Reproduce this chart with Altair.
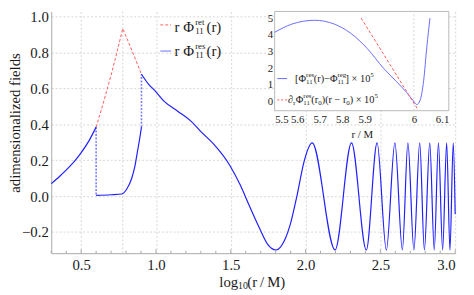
import altair as alt
import pandas as pd

# ---------------- main panel data (x = log10(r/M)) ----------------
seg_a_x = [0.300, 0.355, 0.421, 0.487, 0.553, 0.600]
seg_a_y = [0.070, 0.110, 0.163, 0.228, 0.310, 0.385]

seg_b_x = [0.600, 0.700, 0.772, 0.805, 0.838, 0.860, 0.875, 0.893, 0.903]
seg_b_y = [0.005, 0.008, 0.012, 0.040, 0.100, 0.170, 0.243, 0.330, 0.385]

seg_c_x = [0.903, 0.950, 0.991, 1.057, 1.145, 1.232, 1.300, 1.386, 1.495, 1.561,
           1.627, 1.693, 1.748, 1.803, 1.857, 1.901, 1.945, 1.989, 2.044, 2.197,
           2.307, 2.406, 2.478, 2.540, 2.597, 2.647, 2.684, 2.724, 2.763, 2.794,
           2.830, 2.860, 2.888, 2.916, 2.943, 2.965, 2.987, 3.000]
seg_c_y = [0.680, 0.625, 0.590, 0.527, 0.474, 0.420, 0.360, 0.290, 0.170, 0.066,
           -0.059, -0.180, -0.270, -0.300, -0.250, -0.147, 0.012, 0.190, 0.297, -0.300,
           0.297, -0.300, 0.297, -0.300, 0.297, -0.300, 0.297, -0.300, 0.297, -0.300,
           0.297, -0.300, 0.297, -0.300, 0.297, -0.300, 0.297, -0.100]

ret_x = [0.600, 0.650, 0.700, 0.740, 0.778, 0.838, 0.903]
ret_y = [0.385, 0.525, 0.675, 0.805, 0.935, 0.815, 0.680]

jump_x = [0.600, 0.600, 0.903, 0.903]
jump_y = [0.385, 0.005, 0.385, 0.680]
jump_id = ["j1", "j1", "j2", "j2"]

x_ticks = [0.5, 1.0, 1.5, 2.0, 2.5, 3.0]
x_minor = [0.3, 0.4, 0.6, 0.7, 0.8, 0.9, 1.1, 1.2, 1.3, 1.4, 1.6, 1.7, 1.8, 1.9,
           2.1, 2.2, 2.3, 2.4, 2.6, 2.7, 2.8, 2.9]
y_ticks = [-0.2, 0.0, 0.2, 0.4, 0.6, 0.8, 1.0]
x_extra_grid = [0.778]

# ---------------- inset data (x = r/M) ----------------
ins_x = [5.500, 5.576, 5.678, 5.765, 5.838, 5.905, 5.938, 5.965, 5.985, 6.000,
         6.008, 6.018, 6.028, 6.037, 6.046]
ins_y = [4.15, 4.64, 4.87, 4.64, 4.09, 3.18, 2.00, 1.18, 0.55, 0.00,
         -0.18, 0.09, 1.27, 3.27, 5.00]
tan_x = [5.884, 6.012]
tan_y = [5.0, -0.5]
ins_x_ticks = [5.5, 5.6, 5.7, 5.8, 5.9, 6.0, 6.1]
ins_y_ticks = [0, 1, 2, 3, 4, 5]

# ---------------- layout ----------------
PW, PH = 411, 246
FONT = "Liberation Serif, Times New Roman, Times, DejaVu Serif, serif"
BLUE = "#1f1fff"
RED = "#ff5a5a"
GRID = "#d6d6d6"
FRAME = "#a8a8a8"
INK = "#1a1a1a"

blue_df = pd.concat([
    pd.DataFrame({"x": seg_a_x, "y": seg_a_y, "seg": "a"}),
    pd.DataFrame({"x": seg_b_x, "y": seg_b_y, "seg": "b"}),
    pd.DataFrame({"x": seg_c_x, "y": seg_c_y, "seg": "c"}),
])
ret_df = pd.DataFrame({"x": ret_x, "y": ret_y})
jump_df = pd.DataFrame({"x": jump_x, "y": jump_y, "seg": jump_id})

xsc = alt.Scale(domain=[0.3, 3.0], nice=False, zero=False)
ysc = alt.Scale(domain=[-0.318, 1.03], nice=False, zero=False)
xax = alt.Axis(values=x_ticks, format=".1f", title=None, grid=True, gridDash=[2, 2],
               gridColor=GRID, ticks=False, domainColor=FRAME, labelFont=FONT,
               labelFontSize=15, labelColor=INK, labelPadding=5)
yax = alt.Axis(values=y_ticks, labelExpr="replace(format(datum.value, '.1f'), '-', '\u2212')",
               title="adimensionalized fields", titleFont=FONT, titleFontSize=15,
               titleFontWeight="normal", titleColor=INK, titleX=-29, titleY=113,
               titleAngle=-90, titleBaseline="bottom", titleAlign="center",
               grid=True, gridDash=[2, 2], gridColor=GRID, ticks=False,
               domainColor=FRAME, labelFont=FONT, labelFontSize=15,
               labelColor=INK, labelPadding=3)
X = alt.X("x:Q", scale=xsc, axis=xax)
Y = alt.Y("y:Q", scale=ysc, axis=yax)

extra_grid = alt.Chart(pd.DataFrame({"x": x_extra_grid})).mark_rule(
    color=GRID, strokeDash=[2, 2], strokeWidth=1).encode(x=X)
major_ticks = alt.Chart(pd.DataFrame({"x": x_ticks})).mark_rule(
    color=FRAME, strokeWidth=1).encode(x=X, y=alt.value(PH), y2=alt.value(PH - 4))
minor_ticks = alt.Chart(pd.DataFrame({"x": x_minor})).mark_rule(
    color=FRAME, strokeWidth=1).encode(x=X, y=alt.value(PH), y2=alt.value(PH - 2.5))
ret_line = alt.Chart(ret_df).mark_line(color=RED, strokeWidth=1, strokeDash=[3, 2]).encode(
    x=X, y=Y, order="x:Q")
jumps = alt.Chart(jump_df).mark_line(color="#7b7bff", strokeWidth=1.6, strokeDash=[2, 1.5]).encode(
    x=X, y=Y, detail="seg:N")
blue_line = alt.Chart(blue_df).mark_line(color=BLUE, strokeWidth=1.2, interpolate="monotone").encode(
    x=X, y=Y, detail="seg:N", order="x:Q")

main = alt.layer(extra_grid, major_ticks, minor_ticks, ret_line, jumps, blue_line)

# ---------------- inset ----------------
ixsc = alt.Scale(domain=[5.5, 5.9, 6.0, 6.1], range=[227.3, 319.0, 369.0, 404.5])
iysc = alt.Scale(domain=[-0.55, 5.4], range=[101, 0])
ixax = alt.Axis(orient="bottom", offset=101 - PH, values=ins_x_ticks,
                labelExpr="datum.value == 6 ? '6' : format(datum.value, '.1f')",
                title="r / M", titleFont=FONT, titleFontSize=11, titleFontWeight="normal",
                titleColor=INK, titlePadding=4, grid=False, ticks=False, domain=False,
                labelFont=FONT, labelFontSize=11, labelColor=INK, labelPadding=3)
iyax = alt.Axis(orient="left", offset=-227.3, values=ins_y_ticks, format="d", title=None,
                grid=False, ticks=False, domain=False, labelFont=FONT, labelFontSize=11,
                labelColor=INK, labelPadding=2)
IX = alt.X("x:Q", scale=ixsc, axis=ixax)
IY = alt.Y("y:Q", scale=iysc, axis=iyax)

bg = alt.Chart(pd.DataFrame({"x": [5.5], "x2": [6.1], "y": [-0.55], "y2": [5.4]})).mark_rect(
    fill="white", stroke=FRAME, strokeWidth=0.8).encode(x=IX, x2="x2:Q", y=IY, y2="y2:Q")
ins_grid = alt.Chart(pd.DataFrame({"x": [6.0], "y": [-0.55], "y2": [5.4]})).mark_rule(
    color=GRID, strokeDash=[2, 2]).encode(x=IX, y=IY, y2="y2:Q")
ins_blue = alt.Chart(pd.DataFrame({"x": ins_x, "y": ins_y})).mark_line(
    color="#6a6aff", strokeWidth=1, interpolate="monotone").encode(x=IX, y=IY, order="x:Q")
ins_red = alt.Chart(pd.DataFrame({"x": tan_x, "y": tan_y})).mark_line(
    color=RED, strokeWidth=1, strokeDash=[3, 2]).encode(x=IX, y=IY)

inset = alt.layer(bg, ins_grid, ins_blue, ins_red)

# ---------------- legends and titles (text pieces, pixel positions) ----------------
ann = [
    # main legend
    (125.5, 16, "r \u03a6", 15), (146.4, 11.2, "ret", 9), (146.4, 20.4, "11", 9), (158, 16, "(r)", 15),
    (125.5, 40.3, "r \u03a6", 15), (146.4, 35.5, "res", 9), (146.4, 44.7, "11", 9), (158, 40.3, "(r)", 15),
    # x title
    (171, 275, "log", 15), (190, 279.5, "10", 10), (199.5, 275, "(r\u2009/\u2009M)", 15),
    # inset legend 1
    (248, 68.3, "[\u03a6", 10.5), (259.3, 64.8, "res", 7), (259.3, 71.8, "11", 7),
    (267.2, 68.3, "(r)\u2212\u03a6", 10.5), (291.2, 64.8, "reg", 7), (291.2, 71.8, "11", 7),
    (299.5, 68.3, "] \u00d7 10", 10.5), (324.6, 64.3, "5", 7),
    # inset legend 2
    (241, 90, "\u2202", 10.5), (246.3, 93, "r", 7), (248.8, 90, "\u03a6", 10.5),
    (256.5, 86.5, "res", 7), (256.5, 93.5, "11", 7), (264.6, 90, "(r", 10.5), (271.6, 93, "0", 7),
    (275.2, 90, ")(r \u2212 r", 10.5), (300.2, 93, "0", 7), (303.7, 90, ") \u00d7 10", 10.5),
    (328.9, 86, "5", 7),
]
ann_df = pd.DataFrame(ann, columns=["px", "py", "txt", "fs"])
texts = alt.Chart(ann_df).mark_text(font=FONT, align="left", baseline="middle", color=INK).encode(
    x=alt.X("px:Q", scale=None, axis=None), y=alt.Y("py:Q", scale=None, axis=None),
    text="txt:N", size=alt.Size("fs:Q", scale=None, legend=None))

one = pd.DataFrame({"k": [0]})
leg_red = alt.Chart(one).mark_rule(color=RED, strokeDash=[3, 2], strokeWidth=1).encode(
    x=alt.value(111), x2=alt.value(122), y=alt.value(13.7))
leg_blue = alt.Chart(one).mark_rule(color="#6a6aff", strokeWidth=1).encode(
    x=alt.value(111), x2=alt.value(122), y=alt.value(40.3))
ileg_blue = alt.Chart(one).mark_rule(color="#6a6aff", strokeWidth=1).encode(
    x=alt.value(230), x2=alt.value(240), y=alt.value(68.3))
ileg_red = alt.Chart(one).mark_rule(color=RED, strokeDash=[2, 2], strokeWidth=1).encode(
    x=alt.value(230), x2=alt.value(240), y=alt.value(90))

annot = alt.layer(texts, leg_red, leg_blue, ileg_blue, ileg_red)

chart = alt.layer(main, inset, annot).resolve_scale(
    x="independent", y="independent").resolve_axis(x="independent", y="independent").properties(
    width=PW, height=PH, autosize="none",
    padding={"left": 44, "top": 1, "right": 11, "bottom": 40},
    background="white").configure_view(stroke=None)

chart.save("out.html", embed_options={"renderer": "svg", "actions": False})
